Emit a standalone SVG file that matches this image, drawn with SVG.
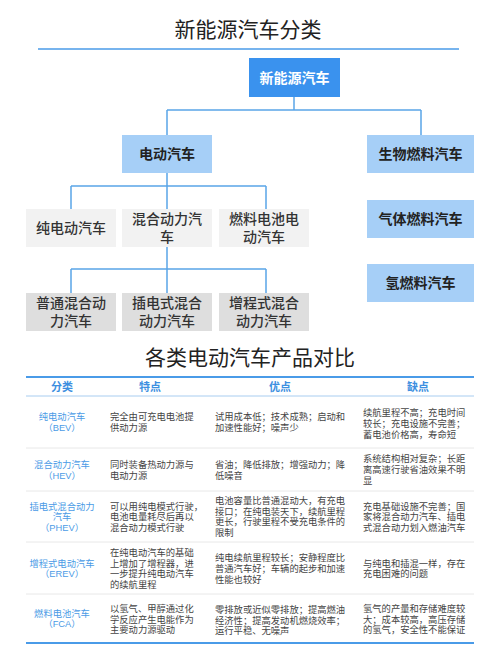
<svg xmlns="http://www.w3.org/2000/svg" width="500" height="652" viewBox="0 0 500 652">
<style>
text{font-family:"Liberation Sans","Noto Sans CJK SC",sans-serif}
.title{font-size:21px;fill:#222;text-anchor:middle}
.nd{font-size:14px;text-anchor:middle;dominant-baseline:central}
.w{fill:#fff;font-weight:bold}
.b{fill:#222;font-weight:bold}
.g{fill:#333;font-weight:500}
.c1{fill:#3a92ee}
.c2{fill:#a6cff7}
.c3{fill:#f2f2f2}
.c4{fill:#dedede}
.conn{stroke:#5aa5e8;stroke-width:1.5;fill:none}
.th{font-size:11px;fill:#3d8fe0;font-weight:bold;text-anchor:middle;dominant-baseline:central}
.td{font-size:9.3px;fill:#444}
.tc{font-size:9.3px;fill:#4b9be6;text-anchor:middle}
.sep{stroke:#e8e8e8;stroke-width:1}
</style>
<rect width="500" height="652" fill="#fff"/>
<text class="title" x="248" y="37">新能源汽车分类</text>
<line x1="38" y1="49" x2="459" y2="49" stroke="#4a9be8" stroke-width="1.5"/>

<g id="connectors">
<path class="conn" d="M294,97V110M167,110H421M167,110V135M421,110V135"/>
<path class="conn" d="M167,173V209M71,186H266M71,186V209M266,186V209"/>
<path class="conn" d="M167,247V293M71,269H266M71,269V293M266,269V293"/>
</g>

<g id="n-root"><rect class="c1" x="249" y="58" width="91" height="39"/><text class="nd w" x="294.5" y="77.5">新能源汽车</text></g>
<g id="n-ev"><rect class="c2" x="122" y="135" width="90" height="38"/><text class="nd b" x="167" y="154">电动汽车</text></g>
<g id="n-bio"><rect class="c2" x="367" y="135" width="107" height="38"/><text class="nd b" x="420.5" y="154">生物燃料汽车</text></g>
<g id="n-gas"><rect class="c2" x="367" y="200" width="107" height="38"/><text class="nd b" x="420.5" y="219">气体燃料汽车</text></g>
<g id="n-h2"><rect class="c2" x="367" y="264" width="107" height="38"/><text class="nd b" x="420.5" y="283">氢燃料汽车</text></g>

<g id="n-bev"><rect class="c3" x="26" y="209" width="90" height="38"/><text class="nd g" x="71" y="228">纯电动汽车</text></g>
<g id="n-hev"><rect class="c3" x="122" y="209" width="90" height="38"/><text class="nd g" x="167" y="219">混合动力汽</text><text class="nd g" x="167" y="237">车</text></g>
<g id="n-fcev"><rect class="c3" x="219" y="209" width="90" height="38"/><text class="nd g" x="264" y="219">燃料电池电</text><text class="nd g" x="264" y="237">动汽车</text></g>

<g id="n-phev0"><rect class="c4" x="26" y="293" width="90" height="38"/><text class="nd g" x="71" y="303">普通混合动</text><text class="nd g" x="71" y="321">力汽车</text></g>
<g id="n-phev"><rect class="c4" x="122" y="293" width="90" height="38"/><text class="nd g" x="167" y="303">插电式混合</text><text class="nd g" x="167" y="321">动力汽车</text></g>
<g id="n-erev"><rect class="c4" x="219" y="293" width="90" height="38"/><text class="nd g" x="264" y="303">增程式混合</text><text class="nd g" x="264" y="321">动力汽车</text></g>

<text class="title" x="250" y="365">各类电动汽车产品对比</text>

<g id="table">
<line x1="26" y1="377" x2="474" y2="377" stroke="#4a9be8" stroke-width="2"/>
<text class="th" x="62" y="387">分类</text>
<text class="th" x="150" y="387">特点</text>
<text class="th" x="280" y="387">优点</text>
<text class="th" x="418" y="387">缺点</text>
<line x1="26" y1="396" x2="474" y2="396" stroke="#a8cdf0" stroke-width="1"/>
<line class="sep" x1="26" y1="448" x2="474" y2="448"/>
<line class="sep" x1="26" y1="491" x2="474" y2="491"/>
<line class="sep" x1="26" y1="542" x2="474" y2="542"/>
<line class="sep" x1="26" y1="594" x2="474" y2="594"/>
<line x1="26" y1="643" x2="474" y2="643" stroke="#4a9be8" stroke-width="2"/>

<text class="tc"><tspan x="62" y="420">纯电动汽车</tspan><tspan x="62" y="431">（BEV）</tspan></text>
<text class="td"><tspan x="110" y="420">完全由可充电电池提</tspan><tspan x="110" y="431">供动力源</tspan></text>
<text class="td"><tspan x="215" y="420">试用成本低；技术成熟；启动和</tspan><tspan x="215" y="431">加速性能好；噪声少</tspan></text>
<text class="td"><tspan x="363" y="415.5">续航里程不高；充电时间</tspan><tspan x="363" y="426.5">较长；充电设施不完善；</tspan><tspan x="363" y="437.5">蓄电池价格高，寿命短</tspan></text>

<text class="tc"><tspan x="62" y="467.5">混合动力汽车</tspan><tspan x="62" y="478.5">（HEV）</tspan></text>
<text class="td"><tspan x="110" y="467.5">同时装备热动力源与</tspan><tspan x="110" y="478.5">电动力源</tspan></text>
<text class="td"><tspan x="215" y="467.5">省油；降低排放；增强动力；降</tspan><tspan x="215" y="478.5">低噪音</tspan></text>
<text class="td"><tspan x="363" y="461.5">系统结构相对复杂；长距</tspan><tspan x="363" y="472.5">离高速行驶省油效果不明</tspan><tspan x="363" y="483.5">显</tspan></text>

<text class="tc"><tspan x="62" y="509.5">插电式混合动力</tspan><tspan x="62" y="520">汽车</tspan><tspan x="62" y="530.5">（PHEV）</tspan></text>
<text class="td"><tspan x="110" y="509.5">可以用纯电模式行驶，</tspan><tspan x="110" y="520">电池电量耗尽后再以</tspan><tspan x="110" y="530.5">混合动力模式行驶</tspan></text>
<text class="td"><tspan x="215" y="504">电池容量比普通混动大，有充电</tspan><tspan x="215" y="514.5">接口；在纯电装天下，续航里程</tspan><tspan x="215" y="525">更长，行驶里程不受充电条件的</tspan><tspan x="215" y="535.5">限制</tspan></text>
<text class="td"><tspan x="363" y="509.5">充电基础设施不完善；国</tspan><tspan x="363" y="520">家将混合动力汽车、插电</tspan><tspan x="363" y="530.5">式混合动力划入燃油汽车</tspan></text>

<text class="tc"><tspan x="62" y="566.5">增程式电动汽车</tspan><tspan x="62" y="577">（EREV）</tspan></text>
<text class="td"><tspan x="110" y="556">在纯电动汽车的基础</tspan><tspan x="110" y="566.5">上增加了增程器，进</tspan><tspan x="110" y="577">一步提升纯电动汽车</tspan><tspan x="110" y="587.5">的续航里程</tspan></text>
<text class="td"><tspan x="215" y="560.5">纯电续航里程较长；安静程度比</tspan><tspan x="215" y="571.5">普通汽车好；车辆的起步和加速</tspan><tspan x="215" y="582.5">性能也较好</tspan></text>
<text class="td"><tspan x="363" y="566.5">与纯电和插混一样，存在</tspan><tspan x="363" y="577">充电困难的问题</tspan></text>

<text class="tc"><tspan x="62" y="616.5">燃料电池汽车</tspan><tspan x="62" y="627">（FCA）</tspan></text>
<text class="td"><tspan x="110" y="611.5">以氢气、甲醇通过化</tspan><tspan x="110" y="622.5">学反应产生电能作为</tspan><tspan x="110" y="633">主要动力源驱动</tspan></text>
<text class="td"><tspan x="215" y="612.5">零排放或近似零排放；提高燃油</tspan><tspan x="215" y="623.5">经济性；提高发动机燃烧效率；</tspan><tspan x="215" y="634">运行平稳、无噪声</tspan></text>
<text class="td"><tspan x="363" y="611.5">氢气的产量和存储难度较</tspan><tspan x="363" y="622.5">大；成本较高，高压存储</tspan><tspan x="363" y="633">的氢气，安全性不能保证</tspan></text>
</g>
</svg>
